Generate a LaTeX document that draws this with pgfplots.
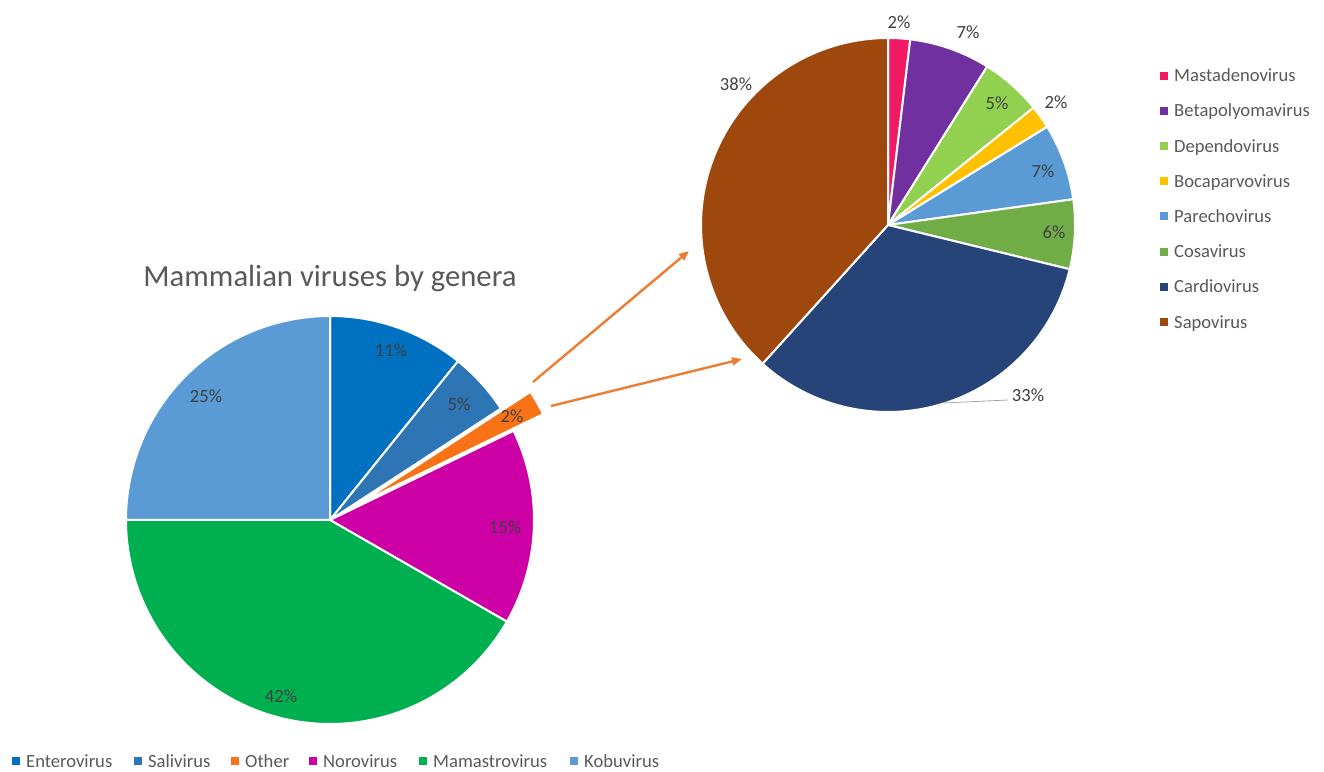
\documentclass[border=0pt]{standalone}
\usepackage{pgfplots}
\pgfplotsset{compat=1.18}
\usepackage{fontspec}
\setmainfont{Carlito}
\usetikzlibrary{arrows.meta}

\definecolor{enteroC}{HTML}{0070C0}
\definecolor{saliC}{HTML}{2E75B6}
\definecolor{otherC}{HTML}{F97316}
\definecolor{noroC}{HTML}{CC00A5}
\definecolor{mamaC}{HTML}{00B050}
\definecolor{koboC}{HTML}{5B9BD5}
\definecolor{mastaC}{HTML}{F21A62}
\definecolor{betaC}{HTML}{7030A0}
\definecolor{depC}{HTML}{92D050}
\definecolor{bocaC}{HTML}{FFC000}
\definecolor{parC}{HTML}{5B9BD5}
\definecolor{cosaC}{HTML}{70AD47}
\definecolor{cardC}{HTML}{264478}
\definecolor{sapoC}{HTML}{9E480E}
\definecolor{labC}{HTML}{404040}
\definecolor{legC}{HTML}{595959}
\definecolor{arrC}{HTML}{ED7D31}

% #1 cx, #2 cy, #3 radius, #4 list value/colour/explode
\newcommand{\piechart}[4]{%
  \gdef\cum{0}%
  \foreach \v/\c/\e in {#4} {%
    \pgfmathsetmacro\aS{90-3.6*\cum}%
    \pgfmathsetmacro\aE{90-3.6*(\cum+\v)}%
    \pgfmathsetmacro\aM{(\aS+\aE)/2}%
    \pgfmathsetmacro\ox{#1+\e*cos(\aM)}%
    \pgfmathsetmacro\oy{#2+\e*sin(\aM)}%
    \edef\temp{\noexpand\addplot[fill=\c, draw=white, line width=2pt, line join=round, domain=\aE:\aS, samples=120, variable=\noexpand\t, forget plot] ({\ox+#3*cos(\noexpand\t)},{\oy+#3*sin(\noexpand\t)}) -- (axis cs:\ox,\oy) -- cycle;}%
    \temp
    \pgfmathsetmacro\newcum{\cum+\v}%
    \xdef\cum{\newcum}%
  }%
}

\newcommand{\lab}[3]{\node[font=\fontsize{18.6}{20}\selectfont, text=labC, inner sep=0pt] at (axis cs:#1,#2) {#3};}
\newcommand{\legitem}[5]{% x text, y baseline, y marker centre, colour, text
  \fill[#4] (axis cs:{#1-14.5},{#3-4}) rectangle (axis cs:{#1-6.5},{#3+4});
  \node[font=\fontsize{18.6}{20}\selectfont, text=legC, anchor=base west, inner sep=0pt] at (axis cs:#1,#2) {#5};}

\begin{document}
\begin{tikzpicture}
\begin{axis}[x=1pt, y=1pt, xmin=0, xmax=1324, ymin=0, ymax=771, hide axis, clip=false]
\path (axis cs:0,0) rectangle (axis cs:1324,771);

% Left pie: Enterovirus, Salivirus, Other, Norovirus, Mamastrovirus, Kobuvirus
\piechart{330}{251}{204}{10.8/enteroC/0, 5.0/saliC/0, 2.0/otherC/34, 15.5/noroC/0, 41.7/mamaC/0, 25.0/koboC/0}

% Right pie: Mastadenovirus ... Sapovirus
\piechart{888}{546}{187}{1.9/mastaC/0, 7.0/betaC/0, 5.3/depC/0, 2.0/bocaC/0, 6.6/parC/0, 6.0/cosaC/0, 32.9/cardC/0, 38.3/sapoC/0}

% arrows
\draw[arrC, line width=2.4pt, -{Triangle[length=10pt,width=8pt]}] (axis cs:533,389) -- (axis cs:689,520);
\draw[arrC, line width=2.4pt, -{Triangle[length=10pt,width=8pt]}] (axis cs:551,365) -- (axis cs:742,412);

% title
\node[font=\fontsize{30.7}{33}\selectfont, text=legC, anchor=base, inner sep=0pt] at (axis cs:330,484) {Mammalian viruses by genera};

% left labels
\lab{391}{421}{11\%}
\lab{459}{367}{5\%}
\lab{512}{355}{2\%}
\lab{505}{244}{15\%}
\lab{281}{75}{42\%}
\lab{206}{375}{25\%}

% right labels
\lab{899}{749}{2\%}
\lab{968}{739}{7\%}
\lab{997}{668}{5\%}
\lab{1056}{669}{2\%}
\lab{1043}{600}{7\%}
\lab{1054}{539}{6\%}
\lab{1028}{376}{33\%}
\lab{736}{687}{38\%}
\draw[gray!70, line width=0.8pt] (axis cs:943,368) -- (axis cs:1008,371);

% right legend
\legitem{1174}{689.3}{695.3}{mastaC}{Mastadenovirus}
\legitem{1174}{654.1}{660.1}{betaC}{Betapolyomavirus}
\legitem{1174}{618.9}{624.9}{depC}{Dependovirus}
\legitem{1174}{583.7}{589.7}{bocaC}{Bocaparvovirus}
\legitem{1174}{548.5}{554.5}{parC}{Parechovirus}
\legitem{1174}{513.3}{519.3}{cosaC}{Cosavirus}
\legitem{1174}{478.1}{484.1}{cardC}{Cardiovirus}
\legitem{1174}{442.9}{448.9}{sapoC}{Sapovirus}

% bottom legend
\legitem{26}{4}{10}{enteroC}{Enterovirus}
\legitem{148}{4}{10}{saliC}{Salivirus}
\legitem{245}{4}{10}{otherC}{Other}
\legitem{323}{4}{10}{noroC}{Norovirus}
\legitem{433}{4}{10}{mamaC}{Mamastrovirus}
\legitem{584}{4}{10}{koboC}{Kobuvirus}
\end{axis}
\end{tikzpicture}
\end{document}
